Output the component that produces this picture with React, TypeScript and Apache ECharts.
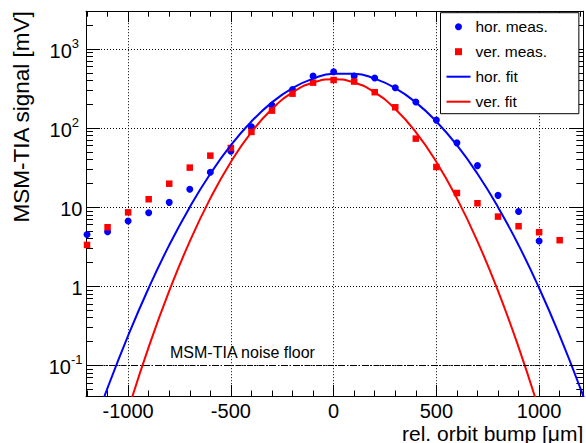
import React, { useEffect, useRef } from 'react';
import * as echarts from 'echarts';

const FONT = 'Liberation Sans, Arial, Helvetica, sans-serif';

// measured points (x in um, signal in mV)
const horX = [-1200, -1100, -1000, -900, -800, -700, -600, -500, -400, -300, -200, -100, 0, 100, 200, 300, 400, 500, 600, 700, 800, 900, 1000];
const horMeas = [4.5, 4.9, 6.7, 8.5, 11.5, 16.8, 27.6, 51, 104, 194, 306, 456, 516, 456, 430, 324, 214, 126, 65, 33.5, 14.1, 8.8, 3.74];
const verX = [-1200, -1100, -1000, -900, -800, -700, -600, -500, -400, -300, -200, -100, 0, 100, 200, 300, 400, 500, 600, 700, 800, 900, 1000, 1100];
const verMeas = [3.33, 5.57, 8.6, 12.6, 19.8, 31.6, 44.8, 56, 89.3, 166, 272, 375, 405, 387, 284, 183, 73.5, 32.2, 15.1, 11.2, 7.6, 5.74, 4.82, 3.82];

// fit curves
const fitX = [-1300, -1200, -1100, -1000, -900, -800, -700, -600, -500, -400, -300, -200, -100, 0, 100, 200, 300, 400, 500, 600, 700, 800, 900, 1000, 1100, 1200, 1300];
const horFit = [0.00162, 0.00984, 0.0518, 0.238, 0.95, 3.31, 10.0, 26.4, 60.7, 121, 211, 320, 422, 485, 485, 422, 320, 211, 121, 60.7, 26.4, 10.0, 3.31, 0.95, 0.238, 0.0518, 0.00984];
const verFit = [0.000035, 0.000393, 0.0036, 0.0272, 0.17, 0.872, 3.7, 12.9, 37.3, 88.7, 174, 282, 376, 414, 376, 282, 174, 88.7, 37.3, 12.9, 3.7, 0.872, 0.17, 0.0272, 0.0036, 0.000393, 0.000035];

// axes
const X_MIN = -1205;
const X_MAX = 1215;
const Y_MIN = 0.041;
const Y_MAX = 3000;
const xMajorTicks = [-1000, -500, 0, 500, 1000];
const xMinorTicks = [-1200, -1100, -900, -800, -700, -600, -400, -300, -200, -100, 100, 200, 300, 400, 600, 700, 800, 900, 1100, 1200];
const yMajorTicks = [0.1, 1, 10, 100, 1000];
const yMinorTicks = [0.05, 0.06, 0.07, 0.08, 0.09, 0.2, 0.3, 0.4, 0.5, 0.6, 0.7, 0.8, 0.9, 2, 3, 4, 5, 6, 7, 8, 9, 20, 30, 40, 50, 60, 70, 80, 90, 200, 300, 400, 500, 600, 700, 800, 900, 2000];
const noiseFloor = 0.1;

const ICON_SQUARE = 'path://M0,0L1,0L1,1L0,1Z';
const ICON_LINE = 'path://M0,0L24,0L24,2L0,2Z';
const legendItems = [
  { name: 'hor. meas.', icon: 'circle' },
  { name: 'ver. meas.', icon: ICON_SQUARE },
  { name: 'hor. fit', icon: ICON_LINE },
  { name: 'ver. fit', icon: ICON_LINE },
];

const BLUE = '#0000ff';
const RED = '#ff0000';

function yLabel(v: number): string {
  const e = Math.round(Math.log10(v));
  if (e === 0) return '{b|1}';
  if (e === 1) return '{b|10}';
  if (e < 0) return '{b|10}{sm|' + e + '}';
  return '{b|10}{s|' + e + '}';
}

export default function App() {
  const ref = useRef<HTMLDivElement>(null);
  useEffect(() => {
    if (!ref.current) return;
    const chart = echarts.init(ref.current, undefined, { renderer: 'svg' });
    const gridRect = { left: 86, right: 2.7, top: 11.2, bottom: 47, containLabel: false, outerBoundsMode: 'none' };
    const dotted = { color: '#000', width: 1, type: [1, 2] };
    const frame = { show: true, onZero: false, lineStyle: { color: '#000', width: 1 } };
    const noLine = { show: false, onZero: false };

    const xAx = (grid: number, pos: string, major: boolean, extra: any = {}) => ({
      type: 'value', gridIndex: grid, position: pos, min: X_MIN, max: X_MAX,
      axisLine: major ? frame : noLine,
      axisTick: { show: true, inside: true, length: major ? 11 : 5.5, lineStyle: { color: '#000', width: 1 }, customValues: major ? xMajorTicks : xMinorTicks },
      axisLabel: { show: false },
      splitLine: { show: false },
      ...extra,
    });
    const yAx = (grid: number, pos: string, major: boolean, extra: any = {}) => ({
      type: 'log', logBase: 10, gridIndex: grid, position: pos, min: Y_MIN, max: Y_MAX,
      axisLine: major ? frame : noLine,
      axisTick: { show: true, inside: true, length: major ? 14 : 7, lineStyle: { color: '#000', width: 1 }, customValues: major ? yMajorTicks : yMinorTicks },
      axisLabel: { show: false },
      splitLine: { show: false },
      ...extra,
    });

    const option: any = {
      animation: false,
      backgroundColor: '#fff',
      grid: [gridRect, { ...gridRect }],
      legend: {
        show: true,
        orient: 'vertical',
        left: 440.5,
        top: 12.7,
        itemWidth: 24,
        itemHeight: 7,
        itemGap: 9,
        padding: [6, 31, 4, 6],
        borderColor: '#000',
        borderWidth: 1,
        borderRadius: 0,
        backgroundColor: '#fff',
        selectedMode: false,
        symbolKeepAspect: true,
        textStyle: { fontSize: 15.5, fontFamily: FONT, color: '#000', lineHeight: 16 },
        data: legendItems,
      },
      xAxis: [
        xAx(0, 'bottom', true, {
          axisLabel: {
            show: true, customValues: xMajorTicks, formatter: (v: number) => String(v),
            fontSize: 20, lineHeight: 20, fontFamily: FONT, color: '#000', margin: 5.4,
          },
          splitLine: { show: true, lineStyle: dotted },
          name: 'rel. orbit bump [\u03bcm]',
          nameLocation: 'end',
          nameGap: 0,
          nameMoveOverlap: false,
          nameTextStyle: { fontSize: 21, lineHeight: 21, fontFamily: FONT, color: '#000', align: 'right', verticalAlign: 'top', padding: [26.5, 0, 0, 0] },
        }),
        xAx(0, 'top', true),
        xAx(1, 'bottom', false),
        xAx(1, 'top', false),
      ],
      yAxis: [
        yAx(0, 'left', true, {
          axisLabel: {
            show: true, customValues: yMajorTicks, formatter: yLabel, margin: 3.5, color: '#000', fontFamily: FONT, fontSize: 20,
            rich: {
              b: { fontSize: 20, lineHeight: 24, verticalAlign: 'bottom', fontFamily: FONT, color: '#000' },
              s: { fontSize: 13, lineHeight: 13, verticalAlign: 'top', fontFamily: FONT, color: '#000', padding: [0, 3.5, 0, 0] },
              sm: { fontSize: 13, lineHeight: 13, verticalAlign: 'top', fontFamily: FONT, color: '#000' },
            },
          },
          splitLine: { show: true, lineStyle: dotted },
          name: 'MSM-TIA signal [mV]',
          nameLocation: 'end',
          nameGap: 0,
          nameRotate: 90,
          nameMoveOverlap: false,
          nameTextStyle: { fontSize: 22.5, lineHeight: 22.5, fontFamily: FONT, color: '#000', align: 'right', verticalAlign: 'bottom', padding: [0, 0, 53.5, 0] },
        }),
        yAx(0, 'right', true),
        yAx(1, 'left', false),
        yAx(1, 'right', false),
      ],
      series: [
        {
          name: 'hor. fit', type: 'line', xAxisIndex: 0, yAxisIndex: 0,
          data: fitX.map((x, i) => [x, horFit[i]]),
          smooth: true, symbol: 'none', clip: true,
          lineStyle: { color: BLUE, width: 2 }, itemStyle: { color: BLUE },
          markLine: {
            silent: true, symbol: ['none', 'none'],
            lineStyle: { color: '#000', width: 1, type: [6, 2, 1.5, 2] },
            label: {
              show: true, position: 'insideStartTop', formatter: 'MSM-TIA noise floor', distance: [84, 4.8],
              fontSize: 16, fontFamily: FONT, color: '#000',
            },
            data: [{ yAxis: noiseFloor }],
          },
        },
        {
          name: 'ver. fit', type: 'line', xAxisIndex: 0, yAxisIndex: 0,
          data: fitX.map((x, i) => [x, verFit[i]]),
          smooth: true, symbol: 'none', clip: true,
          lineStyle: { color: RED, width: 2 }, itemStyle: { color: RED },
        },
        {
          name: 'hor. meas.', type: 'scatter', xAxisIndex: 0, yAxisIndex: 0,
          data: horX.map((x, i) => [x, horMeas[i]]),
          symbol: 'circle', symbolSize: 7, itemStyle: { color: BLUE, opacity: 1 },
        },
        {
          name: 'ver. meas.', type: 'scatter', xAxisIndex: 0, yAxisIndex: 0,
          data: verX.map((x, i) => [x, verMeas[i]]),
          symbol: 'rect', symbolSize: 6.5, itemStyle: { color: RED, opacity: 1 },
        },
      ],
    };
    chart.setOption(option);
    return () => chart.dispose();
  }, []);
  return <div ref={ref} style={{ position: 'fixed', left: 0, top: 0, width: 586, height: 443 }} />;
}
